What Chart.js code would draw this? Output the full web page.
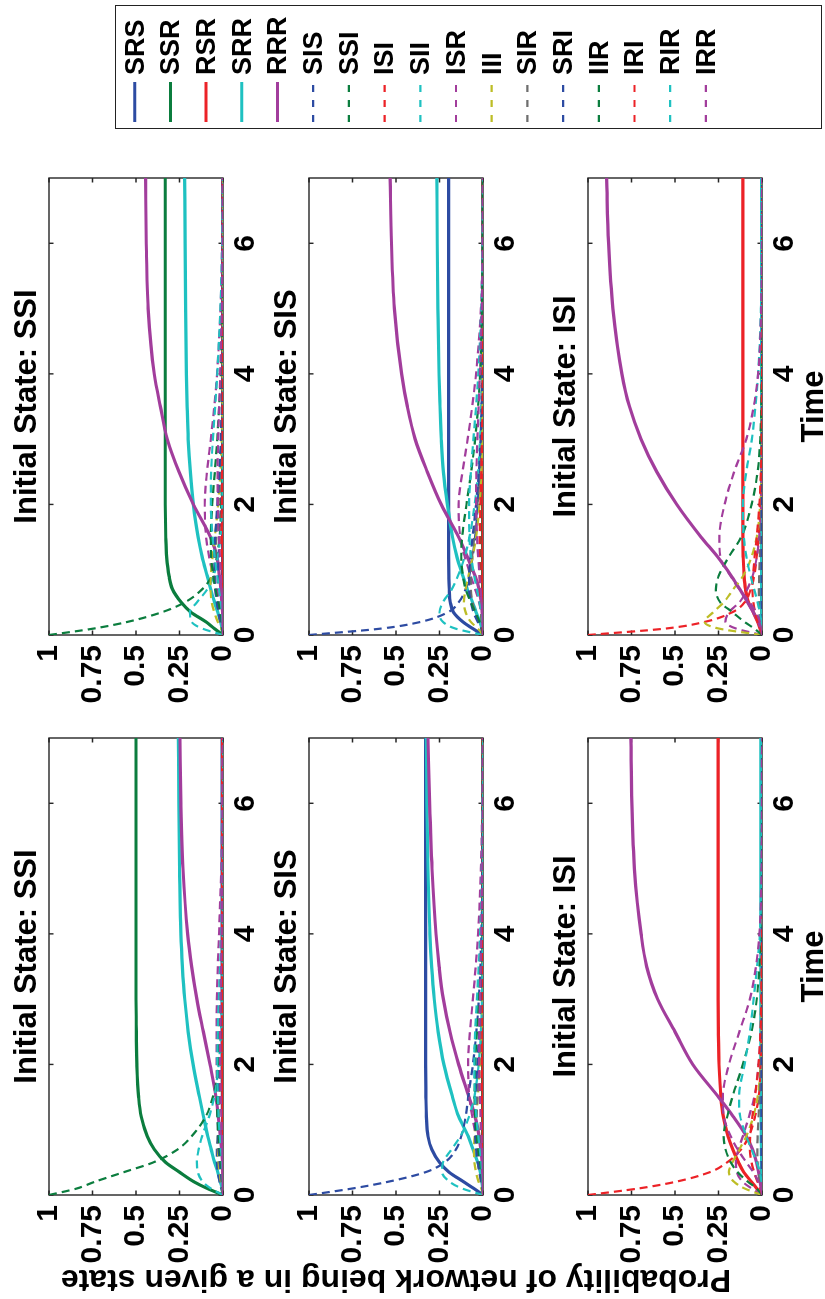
<!DOCTYPE html>
<html>
<head>
<meta charset="utf-8">
<script src="https://cdn.jsdelivr.net/npm/chart.js@4.4.1/dist/chart.umd.min.js"></script>
<style>
  html, body { margin: 0; padding: 0; background: #fff; width: 825px; height: 1299px; overflow: hidden; }
  /* The figure is laid out landscape (1299 x 825) and turned a quarter turn counter-clockwise */
  #fig {
    position: absolute; left: 0; top: 0; width: 1299px; height: 825px;
    transform-origin: 0 0; transform: translate(0, 1299px) rotate(-90deg);
    font-family: "Liberation Sans", Arial, Helvetica, sans-serif; font-weight: bold; color: #000;
    background: #fff;
  }
  #fig canvas { position: absolute; }
  .txt { position: absolute; white-space: nowrap; line-height: 1; }
  .title { font-size: 31px; transform: translateX(-50%); }
  .xlab { font-size: 31px; transform: translateX(-50%); }
  .ylab { font-size: 32px; transform: translate(-50%, -50%) rotate(-90deg); }
  #legend { position: absolute; box-sizing: border-box; border: 1.5px solid #222; background: #fff; }
  .legtxt { font-size: 27px; }
</style>
</head>
<body>
<div id="fig"></div>
<script>
// ---- data -------------------------------------------------------------
const TIME = [0, 0.1, 0.2, 0.35, 0.5, 0.7, 0.9, 1.2, 1.5, 2, 2.5, 3, 3.5, 4, 5, 6, 7];
const TIME_TICKS = [0, 2, 4, 6];
const PROB_TICKS = [0, 0.25, 0.5, 0.75, 1];
const PROB_LABELS = ['0', '0.25', '0.5', '0.75', '1'];

const STATES = ['SRS','SSR','RSR','SRR','RRR','SIS','SSI','ISI','SII','ISR','III','SIR','SRI','IIR','IRI','RIR','IRR'];
const TITLES = ['Initial State: SSI', 'Initial State: SIS', 'Initial State: ISI'];

// one row per state, in STATES order; columns follow TIME
const LEFT_SSI = [
  [0,0,0,0,0,0.001,0.002,0.003,0.004,0.005,0.005,0.005,0.005,0.005,0.005,0.005,0.005],
  [0,0.09,0.165,0.25,0.33,0.395,0.435,0.47,0.485,0.495,0.498,0.5,0.5,0.5,0.5,0.5,0.5],
  [0,0,0,0,0,0,0,0.001,0.001,0.002,0.002,0.002,0.002,0.002,0.002,0.002,0.002],
  [0,0.005,0.015,0.03,0.048,0.068,0.088,0.112,0.135,0.172,0.2,0.22,0.233,0.242,0.25,0.254,0.256],
  [0,0,0,0.001,0.003,0.008,0.015,0.027,0.04,0.075,0.113,0.15,0.18,0.203,0.23,0.242,0.247],
  [0,0.01,0.02,0.03,0.035,0.035,0.03,0.025,0.02,0.012,0.007,0.004,0.002,0.001,0,0,0],
  [1,0.84,0.74,0.57,0.4,0.26,0.18,0.1,0.058,0.025,0.01,0.005,0.002,0.001,0,0,0],
  [0,0.001,0.002,0.004,0.005,0.006,0.006,0.005,0.004,0.002,0.001,0,0,0,0,0,0],
  [0,0.07,0.115,0.145,0.15,0.14,0.12,0.08,0.05,0.025,0.012,0.006,0.003,0.001,0,0,0],
  [0,0,0.001,0.003,0.006,0.012,0.018,0.026,0.032,0.037,0.037,0.035,0.03,0.023,0.01,0.004,0.001],
  [0,0.005,0.012,0.02,0.026,0.03,0.03,0.026,0.02,0.012,0.006,0.003,0.001,0,0,0,0],
  [0,0.003,0.008,0.015,0.02,0.025,0.027,0.026,0.022,0.014,0.008,0.004,0.002,0.001,0,0,0],
  [0,0.002,0.006,0.012,0.018,0.025,0.029,0.03,0.028,0.02,0.012,0.007,0.004,0.002,0,0,0],
  [0,0,0.002,0.006,0.012,0.02,0.026,0.032,0.034,0.03,0.022,0.015,0.009,0.005,0.002,0,0],
  [0,0,0.001,0.002,0.003,0.004,0.005,0.005,0.005,0.004,0.003,0.002,0.001,0,0,0,0],
  [0,0,0.001,0.003,0.006,0.012,0.018,0.025,0.03,0.033,0.03,0.024,0.017,0.011,0.004,0.001,0],
  [0,0,0,0.001,0.002,0.004,0.006,0.01,0.013,0.016,0.016,0.014,0.011,0.008,0.003,0.001,0]
];
const LEFT_SIS = [
  [0,0.053,0.11,0.195,0.25,0.295,0.316,0.325,0.328,0.33,0.33,0.33,0.33,0.33,0.33,0.33,0.33],
  [0,0,0,0,0.001,0.001,0.002,0.002,0.003,0.003,0.003,0.003,0.003,0.003,0.003,0.003,0.003],
  [0,0,0,0,0,0,0,0,0,0,0,0,0,0,0,0,0],
  [0,0.002,0.006,0.015,0.03,0.058,0.085,0.14,0.175,0.225,0.258,0.28,0.295,0.305,0.316,0.322,0.325],
  [0,0,0,0.002,0.005,0.012,0.022,0.045,0.08,0.14,0.19,0.228,0.252,0.27,0.293,0.307,0.316],
  [1,0.75,0.55,0.33,0.22,0.155,0.125,0.1,0.085,0.058,0.038,0.024,0.015,0.009,0.003,0.001,0],
  [0,0.002,0.005,0.009,0.012,0.014,0.014,0.012,0.01,0.006,0.003,0.002,0.001,0,0,0,0],
  [0,0,0.001,0.002,0.003,0.004,0.004,0.004,0.003,0.002,0.001,0,0,0,0,0,0],
  [0,0.12,0.19,0.235,0.23,0.18,0.13,0.08,0.05,0.025,0.012,0.006,0.003,0.001,0,0,0],
  [0,0,0.002,0.006,0.012,0.025,0.04,0.062,0.078,0.086,0.075,0.058,0.042,0.028,0.012,0.004,0.001],
  [0,0.01,0.025,0.04,0.05,0.052,0.048,0.04,0.03,0.017,0.009,0.005,0.002,0.001,0,0,0],
  [0,0.005,0.012,0.022,0.03,0.036,0.038,0.036,0.032,0.022,0.013,0.007,0.004,0.002,0,0,0],
  [0,0.003,0.01,0.02,0.03,0.04,0.045,0.046,0.043,0.033,0.022,0.014,0.008,0.004,0.001,0,0],
  [0,0,0.003,0.009,0.017,0.028,0.036,0.045,0.048,0.045,0.035,0.025,0.016,0.01,0.003,0.001,0],
  [0,0,0.001,0.002,0.004,0.006,0.007,0.008,0.008,0.006,0.004,0.002,0.001,0,0,0,0],
  [0,0,0.002,0.005,0.01,0.018,0.027,0.038,0.046,0.05,0.045,0.035,0.025,0.016,0.006,0.002,0],
  [0,0,0,0.001,0.003,0.006,0.009,0.014,0.018,0.022,0.021,0.018,0.014,0.01,0.004,0.001,0]
];
const LEFT_ISI = [
  [0,0,0,0,0,0,0.001,0.001,0.002,0.002,0.002,0.002,0.002,0.002,0.002,0.002,0.002],
  [0,0,0,0,0,0,0,0,0,0,0,0,0,0,0,0,0],
  [0,0.03,0.06,0.105,0.135,0.168,0.195,0.222,0.236,0.247,0.251,0.252,0.252,0.252,0.252,0.252,0.252],
  [0,0,0,0.001,0.002,0.003,0.004,0.005,0.006,0.007,0.007,0.007,0.007,0.007,0.007,0.007,0.007],
  [0,0.004,0.01,0.02,0.032,0.055,0.09,0.165,0.25,0.398,0.5,0.6,0.663,0.695,0.733,0.748,0.754],
  [0,0,0,0,0,0,0,0,0,0,0,0,0,0,0,0,0],
  [0,0,0,0,0,0,0,0,0,0,0,0,0,0,0,0,0],
  [1,0.71,0.5,0.3,0.2,0.12,0.075,0.04,0.02,0.008,0.003,0.001,0,0,0,0,0],
  [0,0.002,0.004,0.006,0.007,0.007,0.006,0.005,0.004,0.002,0.001,0,0,0,0,0,0],
  [0,0.06,0.11,0.145,0.15,0.135,0.11,0.075,0.045,0.02,0.008,0.003,0.001,0,0,0,0],
  [0,0.1,0.16,0.19,0.17,0.13,0.09,0.05,0.025,0.008,0.003,0.001,0,0,0,0,0],
  [0,0.005,0.012,0.02,0.025,0.027,0.025,0.02,0.014,0.007,0.003,0.001,0,0,0,0,0],
  [0,0,0.001,0.002,0.003,0.004,0.004,0.004,0.003,0.002,0.001,0,0,0,0,0,0],
  [0,0.03,0.08,0.14,0.18,0.21,0.22,0.2,0.17,0.11,0.06,0.03,0.015,0.007,0.002,0,0],
  [0,0.01,0.025,0.045,0.06,0.07,0.068,0.055,0.04,0.02,0.009,0.004,0.002,0.001,0,0,0],
  [0,0,0.003,0.012,0.03,0.06,0.09,0.125,0.132,0.1,0.07,0.048,0.028,0.012,0.002,0,0],
  [0,0.005,0.02,0.05,0.09,0.14,0.18,0.22,0.225,0.19,0.13,0.07,0.035,0.015,0.003,0.001,0]
];
const RIGHT_SSI = [
  [0,0,0,0,0.001,0.001,0.002,0.002,0.003,0.003,0.003,0.003,0.003,0.003,0.003,0.003,0.003],
  [0,0.05,0.097,0.185,0.24,0.29,0.31,0.324,0.329,0.332,0.332,0.332,0.332,0.332,0.332,0.332,0.332],
  [0,0,0,0,0,0,0,0,0,0,0,0,0,0,0,0,0],
  [0,0.005,0.014,0.03,0.048,0.07,0.09,0.12,0.143,0.17,0.188,0.2,0.206,0.21,0.215,0.218,0.22],
  [0,0,0.001,0.003,0.006,0.012,0.02,0.035,0.072,0.17,0.253,0.32,0.36,0.395,0.43,0.441,0.445],
  [0,0.008,0.016,0.025,0.03,0.032,0.03,0.025,0.02,0.012,0.007,0.004,0.002,0.001,0,0,0],
  [1,0.74,0.55,0.35,0.22,0.12,0.065,0.035,0.02,0.01,0.005,0.002,0.001,0,0,0,0],
  [0,0,0.001,0.002,0.003,0.003,0.003,0.003,0.002,0.001,0,0,0,0,0,0,0],
  [0,0.12,0.18,0.19,0.15,0.09,0.055,0.03,0.015,0.005,0.002,0.001,0,0,0,0,0],
  [0,0,0.003,0.01,0.02,0.038,0.056,0.08,0.097,0.105,0.092,0.07,0.05,0.034,0.014,0.005,0.001],
  [0,0.01,0.03,0.05,0.065,0.072,0.07,0.06,0.047,0.028,0.015,0.008,0.004,0.002,0,0,0],
  [0,0.005,0.013,0.025,0.035,0.043,0.046,0.044,0.038,0.026,0.016,0.009,0.005,0.002,0,0,0],
  [0,0.004,0.012,0.025,0.035,0.045,0.05,0.05,0.045,0.033,0.021,0.013,0.007,0.004,0.001,0,0],
  [0,0.002,0.006,0.015,0.027,0.043,0.056,0.068,0.07,0.062,0.047,0.033,0.022,0.014,0.005,0.001,0],
  [0,0,0.001,0.003,0.005,0.007,0.008,0.009,0.009,0.007,0.005,0.003,0.002,0.001,0,0,0],
  [0,0,0.002,0.006,0.012,0.022,0.033,0.048,0.06,0.07,0.068,0.058,0.045,0.033,0.015,0.005,0.001],
  [0,0,0.001,0.002,0.004,0.008,0.012,0.018,0.024,0.03,0.031,0.028,0.022,0.016,0.007,0.002,0]
];
const RIGHT_SIS = [
  [0,0.06,0.115,0.17,0.188,0.194,0.196,0.197,0.197,0.197,0.197,0.197,0.197,0.197,0.197,0.197,0.197],
  [0,0,0,0.001,0.001,0.002,0.002,0.003,0.003,0.003,0.003,0.003,0.003,0.003,0.003,0.003,0.003],
  [0,0,0,0,0,0,0,0,0,0,0,0,0,0,0,0,0],
  [0,0.006,0.018,0.04,0.06,0.09,0.115,0.15,0.175,0.205,0.228,0.24,0.247,0.253,0.259,0.263,0.265],
  [0,0,0.002,0.005,0.01,0.022,0.045,0.09,0.14,0.24,0.32,0.39,0.435,0.468,0.509,0.526,0.534],
  [1,0.58,0.36,0.2,0.14,0.1,0.08,0.06,0.045,0.03,0.02,0.012,0.008,0.005,0.002,0.001,0],
  [0,0.003,0.007,0.012,0.015,0.017,0.017,0.015,0.012,0.007,0.004,0.002,0.001,0,0,0,0],
  [0,0,0.001,0.002,0.003,0.004,0.004,0.004,0.003,0.002,0.001,0,0,0,0,0,0],
  [0,0.16,0.23,0.25,0.23,0.18,0.145,0.105,0.078,0.048,0.029,0.017,0.01,0.006,0.002,0,0],
  [0,0,0.003,0.01,0.022,0.045,0.07,0.105,0.13,0.14,0.118,0.088,0.062,0.04,0.012,0.003,0.001],
  [0,0.03,0.07,0.1,0.11,0.1,0.085,0.06,0.04,0.02,0.009,0.004,0.002,0.001,0,0,0],
  [0,0.01,0.025,0.045,0.06,0.07,0.07,0.062,0.05,0.032,0.018,0.01,0.005,0.002,0,0,0],
  [0,0.01,0.03,0.055,0.07,0.08,0.08,0.072,0.06,0.04,0.024,0.014,0.008,0.004,0.001,0,0],
  [0,0.005,0.02,0.045,0.07,0.1,0.115,0.125,0.12,0.095,0.068,0.045,0.028,0.017,0.006,0.002,0],
  [0,0.002,0.005,0.009,0.013,0.017,0.019,0.02,0.019,0.015,0.01,0.006,0.003,0.002,0,0,0],
  [0,0,0.003,0.01,0.02,0.035,0.05,0.068,0.078,0.08,0.07,0.055,0.04,0.027,0.01,0.003,0.001],
  [0,0,0.001,0.004,0.008,0.014,0.02,0.028,0.034,0.04,0.038,0.032,0.025,0.018,0.007,0.002,0]
];
const RIGHT_ISI = [
  [0,0,0,0,0,0,0.001,0.001,0.001,0.001,0.001,0.001,0.001,0.001,0.001,0.001,0.001],
  [0,0,0,0,0,0,0,0,0,0,0,0,0,0,0,0,0],
  [0,0.012,0.025,0.05,0.078,0.095,0.103,0.108,0.11,0.11,0.11,0.11,0.11,0.11,0.11,0.11,0.11],
  [0,0,0,0.001,0.001,0.002,0.002,0.003,0.003,0.003,0.003,0.003,0.003,0.003,0.003,0.003,0.003],
  [0,0.007,0.02,0.05,0.082,0.127,0.175,0.256,0.35,0.49,0.605,0.695,0.762,0.805,0.857,0.882,0.893],
  [0,0,0,0,0,0,0,0,0,0,0,0,0,0,0,0,0],
  [0,0,0,0,0,0,0,0,0,0,0,0,0,0,0,0,0],
  [1,0.55,0.33,0.17,0.1,0.065,0.045,0.03,0.02,0.01,0.005,0.002,0.001,0,0,0,0],
  [0,0.003,0.006,0.008,0.009,0.009,0.008,0.006,0.004,0.002,0.001,0,0,0,0,0,0],
  [0,0.15,0.21,0.19,0.13,0.085,0.055,0.03,0.016,0.005,0.002,0,0,0,0,0,0],
  [0,0.25,0.33,0.28,0.22,0.165,0.11,0.06,0.03,0.01,0.003,0.001,0,0,0,0,0],
  [0,0.004,0.01,0.015,0.018,0.018,0.016,0.012,0.008,0.004,0.002,0.001,0,0,0,0,0],
  [0,0,0.001,0.001,0.002,0.002,0.002,0.002,0.001,0.001,0,0,0,0,0,0,0],
  [0,0.045,0.1,0.17,0.24,0.265,0.25,0.19,0.12,0.06,0.025,0.01,0.004,0.001,0,0,0],
  [0,0.01,0.025,0.04,0.05,0.055,0.052,0.042,0.03,0.015,0.006,0.002,0.001,0,0,0,0],
  [0,0,0.004,0.012,0.025,0.045,0.065,0.09,0.105,0.11,0.09,0.058,0.038,0.022,0.006,0.002,0],
  [0,0.003,0.012,0.035,0.07,0.13,0.18,0.24,0.245,0.215,0.16,0.09,0.048,0.022,0.005,0.001,0]
];

// ---- styling -------------------------------------------------------------
const BLUE = '#2d4ba2', GREEN = '#0b7d3e', RED = '#ec2227', CYAN = '#1fc1c1',
      PURPLE = '#a23d9c', OLIVE = '#bdbd26', GRAY = '#6e6e6e';
const STATE_COLORS = [BLUE, GREEN, RED, CYAN, PURPLE, BLUE, GREEN, RED, CYAN, PURPLE, OLIVE, GRAY, BLUE, GREEN, RED, CYAN, PURPLE];
const STATE_DASHED = [false, false, false, false, false, true, true, true, true, true, true, true, true, true, true, true, true];
const DASH = [8, 5];
const FONT = '"Liberation Sans", Arial, Helvetica, sans-serif';
const TICK_FONT = { family: FONT, size: 30, weight: 'bold' };

// landscape layout of the six axes
const COL_LEFT = [104, 664];
const ROW_TOP = [41, 301, 580];
const PLOT_W = 457, PLOT_H = 182;
const PAD_L = 100, PAD_T = 20, PAD_R = 15, PAD_B = 48;
const TICK_LEN = 4.5;

const fig = document.getElementById('fig');

// axes box with inward tick marks on all four sides
const boxPlugin = {
  id: 'matlabBox',
  beforeDatasetsDraw(chart) {
    const { ctx, chartArea: a, scales: { x, y } } = chart;
    ctx.save();
    ctx.strokeStyle = '#262626';
    ctx.lineWidth = 1.4;
    ctx.strokeRect(a.left, a.top, a.right - a.left, a.bottom - a.top);
    ctx.beginPath();
    x.ticks.forEach(t => {
      const px = x.getPixelForValue(t.value);
      ctx.moveTo(px, a.bottom); ctx.lineTo(px, a.bottom - TICK_LEN);
      ctx.moveTo(px, a.top); ctx.lineTo(px, a.top + TICK_LEN);
    });
    y.ticks.forEach(t => {
      const py = y.getPixelForValue(t.value);
      ctx.moveTo(a.left, py); ctx.lineTo(a.left + TICK_LEN, py);
      ctx.moveTo(a.right, py); ctx.lineTo(a.right - TICK_LEN, py);
    });
    ctx.stroke();
    ctx.restore();
  }
};

function addText(cls, text, left, top) {
  const d = document.createElement('div');
  d.className = 'txt ' + cls;
  d.textContent = text;
  d.style.left = left + 'px';
  d.style.top = top + 'px';
  fig.appendChild(d);
  return d;
}

function makePanel(rows, col, row) {
  const left = COL_LEFT[col], top = ROW_TOP[row];
  const canvas = document.createElement('canvas');
  const w = PAD_L + PLOT_W + PAD_R, h = PAD_T + PLOT_H + PAD_B;
  canvas.width = w; canvas.height = h;
  canvas.style.left = (left - PAD_L) + 'px';
  canvas.style.top = (top - PAD_T) + 'px';
  canvas.style.width = w + 'px'; canvas.style.height = h + 'px';
  fig.appendChild(canvas);

  const datasets = STATES.map((name, i) => ({
    label: name,
    data: TIME.map((t, k) => ({ x: t, y: rows[i][k] })),
    borderColor: STATE_COLORS[i],
    borderWidth: STATE_DASHED[i] ? 2.2 : 3.2,
    borderDash: STATE_DASHED[i] ? DASH : [],
    pointRadius: 0,
    fill: false,
    cubicInterpolationMode: 'monotone',
    order: -i
  }));

  new Chart(canvas, {
    type: 'line',
    data: { datasets },
    plugins: [boxPlugin],
    options: {
      responsive: false, animation: false, devicePixelRatio: 1,
      layout: { padding: { top: PAD_T, right: PAD_R, left: 0, bottom: 0 } },
      plugins: { legend: { display: false }, tooltip: { enabled: false }, title: { display: false } },
      scales: {
        x: {
          type: 'linear', min: 0, max: 7,
          afterBuildTicks: s => { s.ticks = TIME_TICKS.map(v => ({ value: v })); },
          afterFit: s => { s.height = PAD_B; },
          grid: { display: false, drawTicks: false },
          border: { display: false },
          ticks: { color: '#000', padding: 5, maxRotation: 0, autoSkip: false, font: TICK_FONT }
        },
        y: {
          type: 'linear', min: 0, max: 1,
          afterBuildTicks: s => { s.ticks = PROB_TICKS.map(v => ({ value: v })); },
          afterFit: s => { s.width = PAD_L; },
          grid: { display: false, drawTicks: false },
          border: { display: false },
          ticks: { color: '#000', padding: 10, autoSkip: false,
                   callback: v => PROB_LABELS[PROB_TICKS.indexOf(v)], font: TICK_FONT }
        }
      }
    }
  });

  addText('title', TITLES[row], left + PLOT_W / 2, top - 31);
}

const PANELS = [
  [LEFT_SSI, 0, 0], [LEFT_SIS, 0, 1], [LEFT_ISI, 0, 2],
  [RIGHT_SSI, 1, 0], [RIGHT_SIS, 1, 1], [RIGHT_ISI, 1, 2]
];
PANELS.forEach(([rows, c, r]) => makePanel(rows, c, r));

// shared axis labels
addText('xlab', 'Time', COL_LEFT[0] + PLOT_W / 2, 797);
addText('xlab', 'Time', COL_LEFT[1] + PLOT_W / 2, 797);
addText('ylab', 'Probability of network being in a given state', 18, 396);

// legend
const LEG_X = 1170, LEG_Y = 115, LEG_W = 124, LEG_H = 707, LEG_STEP = 35.7, LEG_FIRST = 134.7;
const leg = document.createElement('div');
leg.id = 'legend';
Object.assign(leg.style, { left: LEG_X + 'px', top: LEG_Y + 'px', width: LEG_W + 'px', height: LEG_H + 'px' });
fig.appendChild(leg);
const svgNS = 'http://www.w3.org/2000/svg';
const svg = document.createElementNS(svgNS, 'svg');
svg.setAttribute('width', 1299); svg.setAttribute('height', 825);
Object.assign(svg.style, { position: 'absolute', left: '0px', top: '0px', pointerEvents: 'none' });
fig.appendChild(svg);
STATES.forEach((name, i) => {
  const yc = LEG_FIRST + LEG_STEP * i;
  const ln = document.createElementNS(svgNS, 'line');
  ln.setAttribute('x1', 1177); ln.setAttribute('x2', 1217);
  ln.setAttribute('y1', yc); ln.setAttribute('y2', yc);
  ln.setAttribute('stroke', STATE_COLORS[i]);
  ln.setAttribute('stroke-width', STATE_DASHED[i] ? 2.2 : 3);
  if (STATE_DASHED[i]) ln.setAttribute('stroke-dasharray', '7 8');
  svg.appendChild(ln);
  addText('legtxt', name, 1224, yc - 13.2);
});
</script>
</body>
</html>
